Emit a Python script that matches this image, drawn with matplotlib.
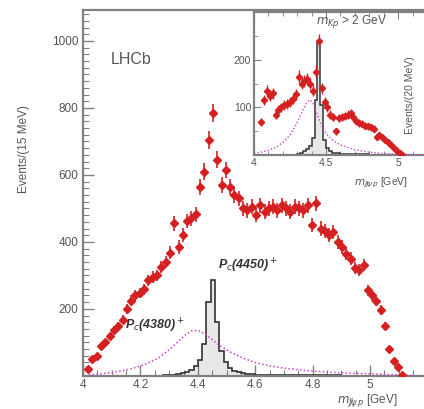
import numpy as np
import matplotlib
matplotlib.use("Agg")
import matplotlib.pyplot as plt
from matplotlib.ticker import MultipleLocator

plt.rcParams['font.family'] = ['Liberation Sans', 'DejaVu Sans']
plt.rcParams['mathtext.fontset'] = 'dejavusans'

# main plot: J/psi p mass, 15 MeV bins
bin_w = 0.015
bin_lo = 4.0175
counts = [20, 50, 60, 90, 100, 118, 138, 150, 168, 200,
          225, 240, 248, 258, 285, 295, 300, 325, 340, 368,
          455, 385, 420, 462, 470, 482, 565, 610, 705, 785,
          645, 570, 615, 565, 540, 530, 500, 495, 505, 480,
          510, 490, 500, 505, 495, 510, 500, 490, 505, 500,
          495, 510, 450, 515, 440, 432, 420, 430, 400, 385,
          365, 350, 322, 316, 331, 255, 240, 225, 197, 150,
          80, 45, 25, 3]

# Pc(4380) curve (dotted magenta)
pc4380_x = [4.02, 4.06, 4.10, 4.14, 4.18, 4.22, 4.26, 4.30, 4.33, 4.36, 4.38,
            4.40, 4.42, 4.45, 4.48, 4.52, 4.56, 4.60, 4.65, 4.70, 4.80, 4.90, 5.00, 5.10, 5.15]
pc4380_y = [3, 6, 10, 16, 24, 36, 52, 78, 102, 125, 135,
            136, 128, 108, 88, 68, 52, 40, 30, 23, 14, 9, 6, 3, 1]

# Pc(4450) histogram (15 MeV bins)
pc4450_edges = [4.28, 4.295, 4.31, 4.325, 4.34, 4.355, 4.37, 4.385, 4.40, 4.415, 4.43,
                4.445, 4.46, 4.475, 4.49, 4.505, 4.52, 4.535, 4.55, 4.565, 4.58,
                4.60, 4.65, 4.70, 4.80, 4.90, 5.00, 5.15]
pc4450_h = [2, 3, 4, 6, 9, 13, 18, 28, 48, 95, 220,
            285, 160, 75, 40, 24, 15, 11, 8, 6, 5,
            4, 3, 2, 2, 1, 1]

# inset: m_Kp > 2 GeV, 20 MeV bins
ins_x = [4.05, 4.07, 4.09, 4.11, 4.13, 4.15, 4.17, 4.19, 4.21, 4.23,
         4.25, 4.27, 4.29, 4.31, 4.33, 4.35, 4.37, 4.39, 4.41, 4.43,
         4.45, 4.47, 4.49, 4.51, 4.53, 4.55, 4.57, 4.59, 4.61, 4.63,
         4.65, 4.67, 4.69, 4.71, 4.73, 4.75, 4.77, 4.79, 4.81, 4.83,
         4.85, 4.87, 4.89, 4.91, 4.93, 4.95, 4.97, 4.99, 5.01, 5.03]
ins_y = [70, 115, 135, 125, 130, 85, 95, 100, 105, 108,
         112, 118, 128, 165, 150, 155, 160, 150, 135, 175,
         240, 140, 112, 100, 85, 80, 50, 78, 80, 82,
         85, 88, 80, 72, 68, 66, 62, 60, 58, 55,
         38, 42, 38, 32, 28, 20, 15, 8, 4, 1]
ins_c_x = [4.00, 4.05, 4.10, 4.15, 4.20, 4.25, 4.30, 4.34, 4.37, 4.39, 4.41,
           4.43, 4.46, 4.50, 4.55, 4.60, 4.70, 4.80, 4.90, 5.00, 5.10, 5.20]
ins_c_y = [3, 6, 10, 16, 26, 42, 68, 95, 112, 116, 108,
           92, 68, 45, 30, 21, 11, 6, 3, 2, 1, 0]
ins_h_edges = [4.30, 4.32, 4.34, 4.36, 4.38, 4.40, 4.42, 4.44, 4.46, 4.48,
               4.50, 4.52, 4.54, 4.56, 4.60, 4.70, 4.80, 5.20]
ins_h = [3, 5, 8, 12, 18, 35, 115, 235, 105, 32, 14, 8, 5, 4, 3, 2, 1]

axis_col = '#808080'
text_col = '#555555'
red = '#d42020'

fig = plt.figure(figsize=(4.24, 4.09), dpi=100)
ax = fig.add_axes([0.196, 0.081, 0.812, 0.895])

x = bin_lo + bin_w * np.arange(len(counts))
y = np.array(counts, dtype=float)
ax.errorbar(x, y, yerr=np.sqrt(y), xerr=bin_w / 2, fmt='D', ms=4.4,
            color=red, ecolor=red, elinewidth=1.2, capsize=0, zorder=4)

ax.plot(pc4380_x, pc4380_y, ls=(0, (1, 1.5)), color='#cc44cc', lw=1.1, zorder=3)
ax.stairs(pc4450_h, pc4450_edges, fill=True, color='#e8e8e8', zorder=1)
ax.stairs(pc4450_h, pc4450_edges, color='#333333', lw=1.2, zorder=2)

ax.set_xlim(4.0, 5.2)
ax.set_ylim(0, 1093)
ax.xaxis.set_major_locator(MultipleLocator(0.2))
ax.xaxis.set_minor_locator(MultipleLocator(0.05))
ax.yaxis.set_major_locator(MultipleLocator(200))
ax.yaxis.set_minor_locator(MultipleLocator(20))
ax.set_xticks([4.0, 4.2, 4.4, 4.6, 4.8, 5.0])
ax.set_xticklabels(['4', '4.2', '4.4', '4.6', '4.8', '5'])
ax.set_yticks([200, 400, 600, 800, 1000])
ax.tick_params(which='both', direction='in', colors=axis_col, labelcolor=text_col, labelsize=8.5)
ax.tick_params(axis='x', pad=2)
ax.tick_params(which='major', length=8, width=1)
ax.tick_params(which='minor', length=4, width=0.8)
for s in ['left', 'bottom', 'top']:
    ax.spines[s].set_color(axis_col)
    ax.spines[s].set_linewidth(1.6)
ax.spines['right'].set_visible(False)

ax.set_ylabel('Events/(15 MeV)', color=text_col, fontsize=8.5)
ax.yaxis.set_label_coords(-0.155, 0.62)
fig.text(0.795, 0.0, r'$m_{J\!/\!\psi\, p}$ [GeV]', color=text_col, fontsize=8.5, ha='left', va='bottom')

ax.text(4.095, 945, 'LHCb', color=text_col, fontsize=11.5, va='center')
ax.text(4.145, 122, r'P$_c$(4380)$^+$', color='#333333', fontsize=9,
        fontweight='bold', style='italic', va='bottom', zorder=5)
ax.text(4.47, 300, r'P$_c$(4450)$^+$', color='#333333', fontsize=9,
        fontweight='bold', style='italic', va='bottom')

# inset
ins = fig.add_axes([0.599, 0.621, 0.408, 0.350])
ins.errorbar(ins_x, ins_y, yerr=np.sqrt(ins_y), xerr=0.01, fmt='D', ms=3.2,
             color=red, ecolor=red, elinewidth=1, capsize=0, zorder=4)
ins.plot(ins_c_x, ins_c_y, ls=(0, (1, 1.5)), color='#cc44cc', lw=1, zorder=3)
ins.stairs(ins_h, ins_h_edges, fill=True, color='#e8e8e8', zorder=1)
ins.stairs(ins_h, ins_h_edges, color='#333333', lw=1.1, zorder=2)
ins.set_xlim(4.0, 5.2)
ins.set_ylim(0, 301)
ins.set_xticks([4.0, 4.5, 5.0])
ins.set_xticklabels(['4', '4.5', '5'])
ins.xaxis.set_minor_locator(MultipleLocator(0.1))
ins.set_yticks([100, 200])
ins.yaxis.set_minor_locator(MultipleLocator(50))
ins.tick_params(which='both', direction='in', top=True, colors=axis_col,
                labelcolor=text_col, labelsize=7.5, pad=2)
ins.tick_params(which='major', length=5)
ins.tick_params(which='minor', length=3)
for s in ['left', 'bottom', 'top']:
    ins.spines[s].set_color(axis_col)
    ins.spines[s].set_linewidth(1.6)
ins.spines['right'].set_visible(False)
ins.text(0.36, 0.93, r'$m_{Kp}$ > 2 GeV', transform=ins.transAxes,
         color=text_col, fontsize=8.5, va='center')
ins.text(0.9, 0.42, 'Events/(20 MeV)', transform=ins.transAxes, rotation=90,
         color=text_col, fontsize=7.5, ha='center', va='center')
fig.text(0.835, 0.553, r'$m_{J\!/\!\psi\, p}$ [GeV]', color=text_col, fontsize=7.5,
         ha='left', va='center')

fig.savefig('out.png', dpi=100)
